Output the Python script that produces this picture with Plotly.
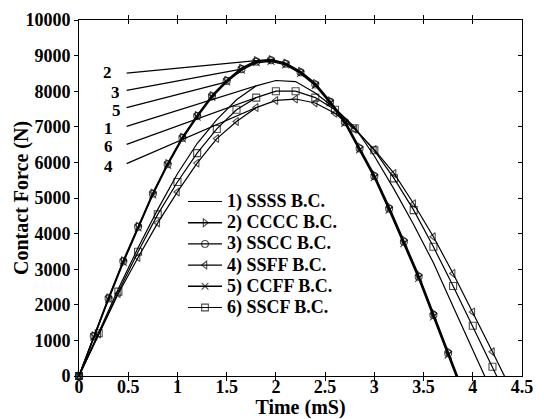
import plotly.graph_objects as go

# ---- data -------------------------------------------------------------
# time samples (ms)
t_a = [0, 0.15, 0.3, 0.45, 0.6, 0.75, 0.9, 1.05, 1.2, 1.35, 1.5, 1.65, 1.8,
       1.95, 2.1, 2.25, 2.4, 2.55, 2.7, 2.85, 3.0, 3.15, 3.3, 3.45, 3.6,
       3.75, 3.9]
t_b = [0, 0.2, 0.4, 0.6, 0.8, 1.0, 1.2, 1.4, 1.6, 1.8, 2.0, 2.2, 2.4, 2.6,
       2.8, 3.0, 3.2, 3.4, 3.6, 3.8, 4.0, 4.2, 4.4]

# contact force (N) for each boundary condition
f_ssss = [0, 1250, 2450, 3600, 4680, 5680, 6530, 7200, 7760, 8150, 8300,
          8270, 7950, 7520, 6990, 6180, 5250, 4250, 3180, 1950, 700, -500,
          -1700]
f_cccc = [0, 1130, 2200, 3240, 4210, 5140, 5970, 6710, 7320, 7880, 8310,
          8650, 8860, 8890, 8790, 8560, 8220, 7730, 7170, 6430, 5650, 4750,
          3820, 2840, 1760, 690, -400]
f_sscc = [0, 1120, 2180, 3220, 4190, 5120, 5950, 6690, 7300, 7860, 8290,
          8620, 8830, 8870, 8770, 8530, 8190, 7700, 7130, 6390, 5610, 4700,
          3770, 2790, 1710, 640, -450]
f_ssff = [0, 1180, 2320, 3330, 4300, 5170, 5980, 6670, 7150, 7540, 7740,
          7780, 7670, 7380, 6930, 6360, 5690, 4840, 3910, 2880, 1800, 680,
          -440]
f_ccff = [0, 1100, 2150, 3190, 4160, 5090, 5920, 6660, 7270, 7830, 8260,
          8590, 8800, 8840, 8740, 8500, 8160, 7670, 7100, 6350, 5570, 4660,
          3720, 2740, 1660, 590, -500]
f_sscf = [0, 1200, 2370, 3490, 4540, 5450, 6260, 6940, 7480, 7820, 8000,
          8000, 7820, 7480, 6960, 6340, 5550, 4660, 3630, 2530, 1410, 260,
          -900]

legend_names = ["1) SSSS B.C.", "2) CCCC B.C.", "3) SSCC B.C.",
                "4) SSFF B.C.", "5) CCFF B.C.", "6) SSCF B.C."]

x_ticks = [0, 0.5, 1, 1.5, 2, 2.5, 3, 3.5, 4, 4.5]
x_ticktext = ["0", "0.5", "1", "1.5", "2", "2.5", "3", "3.5", "4", "4.5"]
y_ticks = [0, 1000, 2000, 3000, 4000, 5000, 6000, 7000, 8000, 9000, 10000]
y_ticktext = ["0", "1000", "2000", "3000", "4000", "5000", "6000", "7000",
              "8000", "9000", "10000"]

# ---- styling ----------------------------------------------------------
FONT = "Liberation Serif, Times New Roman, serif"
INK = "black"
LW = 1.2

series = [
    # (t, force, marker symbol, line width)
    (t_b, f_ssss, None, LW),
    (t_a, f_cccc, "triangle-right-open", 1.4),
    (t_a, f_sscc, "circle-open", 1.4),
    (t_b, f_ssff, "triangle-left-open", LW),
    (t_a, f_ccff, "x-thin-open", 1.4),
    (t_b, f_sscf, "square-open", LW),
]

fig = go.Figure()
for (t, f, sym, lw), name in zip(series, legend_names):
    label = "<span style='font-size:18px'>%s</span>" % name
    if sym is None:
        fig.add_trace(go.Scatter(x=t, y=f, mode="lines", name=label,
                                 line=dict(color=INK, width=lw)))
    else:
        # points below the time axis are cut off by the plot area
        sizes = [7 if v >= 0 else 0 for v in f]
        fig.add_trace(go.Scatter(
            x=t, y=f, mode="lines+markers", name=label,
            line=dict(color=INK, width=lw),
            marker=dict(symbol=sym, size=sizes, color=INK,
                        line=dict(color=INK, width=1.1)),
            cliponaxis=False))

# empty trace carrying the right-hand frame axis
fig.add_trace(go.Scatter(x=[], y=[], yaxis="y2", showlegend=False,
                         hoverinfo="skip"))

# numbered call-outs with leader lines running to the curves
tag_pos = {  # label position, leader-line start
    "2": ((0.294, 8536), (0.484, 8508)),
    "3": ((0.375, 7975), (0.484, 8022)),
    "5": ((0.382, 7461), (0.484, 7537)),
    "1": ((0.297, 6976), (0.484, 7013)),
    "6": ((0.297, 6452), (0.484, 6508)),
    "4": ((0.297, 5891), (0.484, 5966)),
}
leader_target = {  # which sample of each curve the leader line meets
    "2": (t_a, f_cccc, 12),
    "3": (t_a, f_sscc, 11),
    "5": (t_a, f_ccff, 10),
    "1": (t_b, f_ssss, 9),
    "6": (t_b, f_sscf, 9),
    "4": (t_b, f_ssff, 9),
}
for tag in ["2", "3", "5", "1", "6", "4"]:
    (lx, ly), (sx, sy) = tag_pos[tag]
    tt, ff, i = leader_target[tag]
    fig.add_shape(type="line", xref="x", yref="y", x0=sx, y0=sy,
                  x1=tt[i], y1=ff[i], line=dict(color=INK, width=LW))
    fig.add_annotation(x=lx, y=ly, xref="x", yref="y", text=tag,
                       showarrow=False, borderpad=0, height=14,
                       valign="middle",
                       font=dict(family=FONT, size=17, color=INK,
                                 weight="bold"))

# y-axis title, set a little closer to the tick labels
fig.add_annotation(text="Contact Force (N)", xref="paper", yref="paper",
                   x=-0.131, y=0.5, xanchor="center", yanchor="middle",
                   textangle=-90, showarrow=False,
                   font=dict(family=FONT, size=20, color=INK, weight="bold"))

axis_common = dict(showline=True, linecolor=INK, linewidth=1,
                   showgrid=False, zeroline=False, ticklen=4,
                   tickcolor=INK, tickwidth=1, automargin=False,
                   tickfont=dict(family=FONT, size=18, color=INK,
                                 weight="bold"))

fig.update_layout(
    width=544, height=419,
    margin=dict(l=79, r=22, t=20, b=43),
    paper_bgcolor="white", plot_bgcolor="white",
    font=dict(family=FONT, color=INK, weight="bold"),
    showlegend=True,
    legend=dict(x=0.2348, y=0.534, xanchor="left", yanchor="top",
                bgcolor="rgba(0,0,0,0)", borderwidth=0, itemwidth=34,
                font=dict(family=FONT, size=14, color=INK, weight="bold")),
    xaxis=dict(range=[0, 4.5], tickvals=x_ticks, ticktext=x_ticktext,
               ticks="inside", mirror="allticks", ticklabelstandoff=-6,
               title=dict(text="Time (mS)",
                          font=dict(family=FONT, size=20, color=INK,
                                    weight="bold")),
               **axis_common),
    yaxis=dict(range=[0, 10000], tickvals=y_ticks, ticktext=y_ticktext,
               ticks="outside", mirror=False,
               **axis_common),
    yaxis2=dict(range=[0, 10000], tickvals=y_ticks, ticks="inside",
                overlaying="y", side="right", showticklabels=False,
                showline=True, linecolor=INK, linewidth=1, showgrid=False,
                zeroline=False, ticklen=4, tickcolor=INK, tickwidth=1,
                automargin=False),
)

fig.write_html("out.html")
